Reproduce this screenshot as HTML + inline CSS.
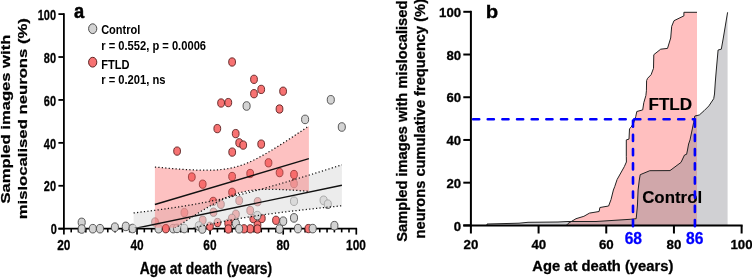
<!DOCTYPE html>
<html><head><meta charset="utf-8"><style>
html,body{margin:0;padding:0;background:#fff;}
body{width:752px;height:278px;overflow:hidden;position:relative;font-family:"Liberation Sans",sans-serif;}
</style></head><body>
<svg width="752" height="278" viewBox="0 0 752 278" style="position:absolute;left:0;top:0;will-change:transform">
<defs><clipPath id="ca"><rect x="50" y="0" width="320" height="227.8"/></clipPath></defs>
<g stroke="#000" fill="none">
<line x1="63.9" y1="13.20" x2="63.9" y2="229.6" stroke-width="1.8"/>
<line x1="58.4" y1="228.7" x2="357.10" y2="228.7" stroke-width="1.8"/>
<line x1="58.4" y1="228.70" x2="63.9" y2="228.70" stroke-width="1.8"/>
<line x1="58.4" y1="185.78" x2="63.9" y2="185.78" stroke-width="1.8"/>
<line x1="58.4" y1="142.86" x2="63.9" y2="142.86" stroke-width="1.8"/>
<line x1="58.4" y1="99.94" x2="63.9" y2="99.94" stroke-width="1.8"/>
<line x1="58.4" y1="57.02" x2="63.9" y2="57.02" stroke-width="1.8"/>
<line x1="58.4" y1="14.10" x2="63.9" y2="14.10" stroke-width="1.8"/>
<line x1="63.90" y1="228.7" x2="63.90" y2="234.6" stroke-width="1.7"/>
<line x1="71.21" y1="228.7" x2="71.21" y2="232.4" stroke-width="1.6"/>
<line x1="78.52" y1="228.7" x2="78.52" y2="232.4" stroke-width="1.6"/>
<line x1="85.83" y1="228.7" x2="85.83" y2="232.4" stroke-width="1.6"/>
<line x1="93.14" y1="228.7" x2="93.14" y2="232.4" stroke-width="1.6"/>
<line x1="100.45" y1="228.7" x2="100.45" y2="232.4" stroke-width="1.6"/>
<line x1="107.76" y1="228.7" x2="107.76" y2="232.4" stroke-width="1.6"/>
<line x1="115.07" y1="228.7" x2="115.07" y2="232.4" stroke-width="1.6"/>
<line x1="122.38" y1="228.7" x2="122.38" y2="232.4" stroke-width="1.6"/>
<line x1="129.69" y1="228.7" x2="129.69" y2="232.4" stroke-width="1.6"/>
<line x1="137.00" y1="228.7" x2="137.00" y2="234.6" stroke-width="1.7"/>
<line x1="144.31" y1="228.7" x2="144.31" y2="232.4" stroke-width="1.6"/>
<line x1="151.62" y1="228.7" x2="151.62" y2="232.4" stroke-width="1.6"/>
<line x1="158.93" y1="228.7" x2="158.93" y2="232.4" stroke-width="1.6"/>
<line x1="166.24" y1="228.7" x2="166.24" y2="232.4" stroke-width="1.6"/>
<line x1="173.55" y1="228.7" x2="173.55" y2="232.4" stroke-width="1.6"/>
<line x1="180.86" y1="228.7" x2="180.86" y2="232.4" stroke-width="1.6"/>
<line x1="188.17" y1="228.7" x2="188.17" y2="232.4" stroke-width="1.6"/>
<line x1="195.48" y1="228.7" x2="195.48" y2="232.4" stroke-width="1.6"/>
<line x1="202.79" y1="228.7" x2="202.79" y2="232.4" stroke-width="1.6"/>
<line x1="210.10" y1="228.7" x2="210.10" y2="234.6" stroke-width="1.7"/>
<line x1="217.41" y1="228.7" x2="217.41" y2="232.4" stroke-width="1.6"/>
<line x1="224.72" y1="228.7" x2="224.72" y2="232.4" stroke-width="1.6"/>
<line x1="232.03" y1="228.7" x2="232.03" y2="232.4" stroke-width="1.6"/>
<line x1="239.34" y1="228.7" x2="239.34" y2="232.4" stroke-width="1.6"/>
<line x1="246.65" y1="228.7" x2="246.65" y2="232.4" stroke-width="1.6"/>
<line x1="253.96" y1="228.7" x2="253.96" y2="232.4" stroke-width="1.6"/>
<line x1="261.27" y1="228.7" x2="261.27" y2="232.4" stroke-width="1.6"/>
<line x1="268.58" y1="228.7" x2="268.58" y2="232.4" stroke-width="1.6"/>
<line x1="275.89" y1="228.7" x2="275.89" y2="232.4" stroke-width="1.6"/>
<line x1="283.20" y1="228.7" x2="283.20" y2="234.6" stroke-width="1.7"/>
<line x1="290.51" y1="228.7" x2="290.51" y2="232.4" stroke-width="1.6"/>
<line x1="297.82" y1="228.7" x2="297.82" y2="232.4" stroke-width="1.6"/>
<line x1="305.13" y1="228.7" x2="305.13" y2="232.4" stroke-width="1.6"/>
<line x1="312.44" y1="228.7" x2="312.44" y2="232.4" stroke-width="1.6"/>
<line x1="319.75" y1="228.7" x2="319.75" y2="232.4" stroke-width="1.6"/>
<line x1="327.06" y1="228.7" x2="327.06" y2="232.4" stroke-width="1.6"/>
<line x1="334.37" y1="228.7" x2="334.37" y2="232.4" stroke-width="1.6"/>
<line x1="341.68" y1="228.7" x2="341.68" y2="232.4" stroke-width="1.6"/>
<line x1="348.99" y1="228.7" x2="348.99" y2="232.4" stroke-width="1.6"/>
<line x1="356.30" y1="228.7" x2="356.30" y2="234.6" stroke-width="1.7"/>
</g>
<ellipse cx="232.1" cy="62.0" rx="3.4" ry="4.15" fill="#f77272" stroke="#5a2020" stroke-width="0.9"/>
<ellipse cx="254.0" cy="79.3" rx="3.4" ry="4.15" fill="#f77272" stroke="#5a2020" stroke-width="0.9"/>
<ellipse cx="261.2" cy="89.4" rx="3.4" ry="4.15" fill="#f77272" stroke="#5a2020" stroke-width="0.9"/>
<ellipse cx="254.0" cy="93.7" rx="3.4" ry="4.15" fill="#f77272" stroke="#5a2020" stroke-width="0.9"/>
<ellipse cx="283.1" cy="91.2" rx="3.4" ry="4.15" fill="#f77272" stroke="#5a2020" stroke-width="0.9"/>
<ellipse cx="221.1" cy="103.0" rx="3.4" ry="4.15" fill="#f77272" stroke="#5a2020" stroke-width="0.9"/>
<ellipse cx="228.3" cy="102.6" rx="3.4" ry="4.15" fill="#f77272" stroke="#5a2020" stroke-width="0.9"/>
<ellipse cx="279.5" cy="109.0" rx="3.4" ry="4.15" fill="#f77272" stroke="#5a2020" stroke-width="0.9"/>
<ellipse cx="217.3" cy="128.6" rx="3.4" ry="4.15" fill="#f77272" stroke="#5a2020" stroke-width="0.9"/>
<ellipse cx="235.7" cy="133.6" rx="3.4" ry="4.15" fill="#f77272" stroke="#5a2020" stroke-width="0.9"/>
<ellipse cx="239.2" cy="142.8" rx="3.4" ry="4.15" fill="#f77272" stroke="#5a2020" stroke-width="0.9"/>
<ellipse cx="243.2" cy="145.1" rx="3.4" ry="4.15" fill="#f77272" stroke="#5a2020" stroke-width="0.9"/>
<ellipse cx="261.2" cy="144.1" rx="3.4" ry="4.15" fill="#f77272" stroke="#5a2020" stroke-width="0.9"/>
<ellipse cx="232.2" cy="152.1" rx="3.4" ry="4.15" fill="#f77272" stroke="#5a2020" stroke-width="0.9"/>
<ellipse cx="177.1" cy="151.1" rx="3.4" ry="4.15" fill="#f77272" stroke="#5a2020" stroke-width="0.9"/>
<ellipse cx="268.5" cy="162.8" rx="3.4" ry="4.15" fill="#f77272" stroke="#5a2020" stroke-width="0.9"/>
<ellipse cx="191.8" cy="177.0" rx="3.4" ry="4.15" fill="#f77272" stroke="#5a2020" stroke-width="0.9"/>
<ellipse cx="202.7" cy="184.2" rx="3.4" ry="4.15" fill="#f77272" stroke="#5a2020" stroke-width="0.9"/>
<ellipse cx="232.1" cy="176.5" rx="3.4" ry="4.15" fill="#f77272" stroke="#5a2020" stroke-width="0.9"/>
<ellipse cx="250.2" cy="173.5" rx="3.4" ry="4.15" fill="#f77272" stroke="#5a2020" stroke-width="0.9"/>
<ellipse cx="279.6" cy="172.6" rx="3.4" ry="4.15" fill="#f77272" stroke="#5a2020" stroke-width="0.9"/>
<ellipse cx="294.0" cy="174.5" rx="3.4" ry="4.15" fill="#f77272" stroke="#5a2020" stroke-width="0.9"/>
<ellipse cx="232.1" cy="192.3" rx="3.4" ry="4.15" fill="#f77272" stroke="#5a2020" stroke-width="0.9"/>
<ellipse cx="213.2" cy="201.4" rx="3.4" ry="4.15" fill="#f77272" stroke="#5a2020" stroke-width="0.9"/>
<ellipse cx="294.0" cy="183.6" rx="3.4" ry="4.15" fill="#f77272" stroke="#5a2020" stroke-width="0.9"/>
<ellipse cx="220.9" cy="204.3" rx="3.4" ry="4.15" fill="#f77272" stroke="#5a2020" stroke-width="0.9"/>
<ellipse cx="184.4" cy="212.6" rx="3.4" ry="4.15" fill="#f77272" stroke="#5a2020" stroke-width="0.9"/>
<ellipse cx="213.5" cy="212.2" rx="3.4" ry="4.15" fill="#f77272" stroke="#5a2020" stroke-width="0.9"/>
<ellipse cx="202.7" cy="220.2" rx="3.4" ry="4.15" fill="#f77272" stroke="#5a2020" stroke-width="0.9"/>
<ellipse cx="235.9" cy="214.2" rx="3.4" ry="4.15" fill="#f77272" stroke="#5a2020" stroke-width="0.9"/>
<ellipse cx="231.9" cy="218.3" rx="3.4" ry="4.15" fill="#f77272" stroke="#5a2020" stroke-width="0.9"/>
<ellipse cx="217.5" cy="222.5" rx="3.4" ry="4.15" fill="#f77272" stroke="#5a2020" stroke-width="0.9"/>
<ellipse cx="228.2" cy="223.3" rx="3.4" ry="4.15" fill="#f77272" stroke="#5a2020" stroke-width="0.9"/>
<ellipse cx="209.9" cy="226.3" rx="3.4" ry="4.15" fill="#f77272" stroke="#5a2020" stroke-width="0.9"/>
<ellipse cx="228.3" cy="229.0" rx="3.4" ry="4.15" fill="#f77272" stroke="#5a2020" stroke-width="0.9"/>
<ellipse cx="155.0" cy="222.0" rx="3.4" ry="4.15" fill="#f77272" stroke="#5a2020" stroke-width="0.9"/>
<ellipse cx="239.2" cy="200.6" rx="3.4" ry="4.15" fill="#f77272" stroke="#5a2020" stroke-width="0.9"/>
<ellipse cx="257.6" cy="201.7" rx="3.4" ry="4.15" fill="#f77272" stroke="#5a2020" stroke-width="0.9"/>
<ellipse cx="250.2" cy="210.5" rx="3.4" ry="4.15" fill="#f77272" stroke="#5a2020" stroke-width="0.9"/>
<ellipse cx="253.3" cy="218.6" rx="3.4" ry="4.15" fill="#f77272" stroke="#5a2020" stroke-width="0.9"/>
<ellipse cx="261.8" cy="218.4" rx="3.4" ry="4.15" fill="#f77272" stroke="#5a2020" stroke-width="0.9"/>
<ellipse cx="257.5" cy="225.0" rx="3.4" ry="4.15" fill="#f77272" stroke="#5a2020" stroke-width="0.9"/>
<ellipse cx="257.5" cy="229.0" rx="3.4" ry="4.15" fill="#f77272" stroke="#5a2020" stroke-width="0.9"/>
<ellipse cx="250.3" cy="228.8" rx="3.4" ry="4.15" fill="#f77272" stroke="#5a2020" stroke-width="0.9"/>
<ellipse cx="244.0" cy="228.8" rx="3.4" ry="4.15" fill="#f77272" stroke="#5a2020" stroke-width="0.9"/>
<ellipse cx="276.0" cy="220.3" rx="3.4" ry="4.15" fill="#f77272" stroke="#5a2020" stroke-width="0.9"/>
<ellipse cx="308.4" cy="228.6" rx="3.4" ry="4.15" fill="#f77272" stroke="#5a2020" stroke-width="0.9"/>
<ellipse cx="246.6" cy="106.0" rx="3.55" ry="4.3" fill="#d3d3d3" stroke="#4a4a4a" stroke-width="0.9"/>
<ellipse cx="305.1" cy="119.4" rx="3.55" ry="4.3" fill="#d3d3d3" stroke="#4a4a4a" stroke-width="0.9"/>
<ellipse cx="330.8" cy="99.8" rx="3.55" ry="4.3" fill="#d3d3d3" stroke="#4a4a4a" stroke-width="0.9"/>
<ellipse cx="341.8" cy="127.0" rx="3.55" ry="4.3" fill="#d3d3d3" stroke="#4a4a4a" stroke-width="0.9"/>
<ellipse cx="81.7" cy="222.4" rx="3.55" ry="4.3" fill="#d3d3d3" stroke="#4a4a4a" stroke-width="0.9"/>
<ellipse cx="81.7" cy="229.0" rx="3.55" ry="4.3" fill="#d3d3d3" stroke="#4a4a4a" stroke-width="0.9"/>
<ellipse cx="92.8" cy="228.7" rx="3.55" ry="4.3" fill="#d3d3d3" stroke="#4a4a4a" stroke-width="0.9"/>
<ellipse cx="100.0" cy="228.7" rx="3.55" ry="4.3" fill="#d3d3d3" stroke="#4a4a4a" stroke-width="0.9"/>
<ellipse cx="114.9" cy="227.2" rx="3.55" ry="4.3" fill="#d3d3d3" stroke="#4a4a4a" stroke-width="0.9"/>
<ellipse cx="125.8" cy="226.4" rx="3.55" ry="4.3" fill="#d3d3d3" stroke="#4a4a4a" stroke-width="0.9"/>
<ellipse cx="132.6" cy="228.5" rx="3.55" ry="4.3" fill="#d3d3d3" stroke="#4a4a4a" stroke-width="0.9"/>
<ellipse cx="158.6" cy="228.7" rx="3.55" ry="4.3" fill="#d3d3d3" stroke="#4a4a4a" stroke-width="0.9"/>
<ellipse cx="173.2" cy="228.6" rx="3.55" ry="4.3" fill="#d3d3d3" stroke="#4a4a4a" stroke-width="0.9"/>
<ellipse cx="177.0" cy="228.4" rx="3.55" ry="4.3" fill="#d3d3d3" stroke="#4a4a4a" stroke-width="0.9"/>
<ellipse cx="184.2" cy="228.5" rx="3.55" ry="4.3" fill="#d3d3d3" stroke="#4a4a4a" stroke-width="0.9"/>
<ellipse cx="198.8" cy="226.0" rx="3.55" ry="4.3" fill="#d3d3d3" stroke="#4a4a4a" stroke-width="0.9"/>
<ellipse cx="202.3" cy="229.0" rx="3.55" ry="4.3" fill="#d3d3d3" stroke="#4a4a4a" stroke-width="0.9"/>
<ellipse cx="235.9" cy="223.5" rx="3.55" ry="4.3" fill="#d3d3d3" stroke="#4a4a4a" stroke-width="0.9"/>
<ellipse cx="239.1" cy="228.8" rx="3.55" ry="4.3" fill="#d3d3d3" stroke="#4a4a4a" stroke-width="0.9"/>
<ellipse cx="257.3" cy="215.6" rx="3.55" ry="4.3" fill="#d3d3d3" stroke="#4a4a4a" stroke-width="0.9"/>
<ellipse cx="283.2" cy="221.2" rx="3.55" ry="4.3" fill="#d3d3d3" stroke="#4a4a4a" stroke-width="0.9"/>
<ellipse cx="279.5" cy="229.0" rx="3.55" ry="4.3" fill="#d3d3d3" stroke="#4a4a4a" stroke-width="0.9"/>
<ellipse cx="294.0" cy="217.9" rx="3.55" ry="4.3" fill="#d3d3d3" stroke="#4a4a4a" stroke-width="0.9"/>
<ellipse cx="297.9" cy="228.6" rx="3.55" ry="4.3" fill="#d3d3d3" stroke="#4a4a4a" stroke-width="0.9"/>
<ellipse cx="312.7" cy="228.6" rx="3.55" ry="4.3" fill="#d3d3d3" stroke="#4a4a4a" stroke-width="0.9"/>
<ellipse cx="334.4" cy="225.7" rx="3.55" ry="4.3" fill="#d3d3d3" stroke="#4a4a4a" stroke-width="0.9"/>
<ellipse cx="294.0" cy="201.2" rx="3.55" ry="4.3" fill="#d3d3d3" stroke="#4a4a4a" stroke-width="0.9"/>
<ellipse cx="323.6" cy="200.3" rx="3.55" ry="4.3" fill="#d3d3d3" stroke="#4a4a4a" stroke-width="0.9"/>
<ellipse cx="327.8" cy="204.2" rx="3.55" ry="4.3" fill="#d3d3d3" stroke="#4a4a4a" stroke-width="0.9"/>
<g clip-path="url(#ca)">
<polygon points="133.60,212.92 137.07,212.52 140.54,212.10 144.01,211.68 147.49,211.25 150.96,210.81 154.43,210.37 157.90,209.91 161.37,209.44 164.84,208.96 168.32,208.46 171.79,207.96 175.26,207.44 178.73,206.91 182.20,206.36 185.67,205.79 189.15,205.21 192.62,204.62 196.09,204.00 199.56,203.37 203.03,202.72 206.50,202.06 209.98,201.37 213.45,200.66 216.92,199.94 220.39,199.20 223.86,198.43 227.33,197.65 230.81,196.85 234.28,196.04 237.75,195.20 241.22,194.35 244.69,193.48 248.16,192.59 251.64,191.69 255.11,190.78 258.58,189.85 262.05,188.91 265.52,187.95 269.00,186.98 272.47,186.00 275.94,185.02 279.41,184.02 282.88,183.01 286.35,181.99 289.82,180.96 293.30,179.92 296.77,178.88 300.24,177.83 303.71,176.78 307.18,175.71 310.65,174.64 314.13,173.57 317.60,172.49 321.07,171.40 324.54,170.32 328.01,169.22 331.48,168.12 334.96,167.02 338.43,165.92 341.90,164.81 341.90,205.79 338.43,206.13 334.96,206.47 331.48,206.81 328.01,207.16 324.54,207.52 321.07,207.87 317.60,208.24 314.13,208.60 310.65,208.98 307.18,209.36 303.71,209.74 300.24,210.13 296.77,210.53 293.30,210.93 289.82,211.34 286.35,211.76 282.88,212.19 279.41,212.63 275.94,213.08 272.47,213.53 269.00,214.00 265.52,214.48 262.05,214.97 258.58,215.48 255.11,215.99 251.64,216.53 248.16,217.07 244.69,217.63 241.22,218.21 237.75,218.81 234.28,219.42 230.81,220.05 227.33,220.70 223.86,221.36 220.39,222.05 216.92,222.75 213.45,223.47 209.98,224.21 206.50,224.97 203.03,225.75 199.56,226.55 196.09,227.37 192.62,228.20 189.15,229.05 185.67,229.92 182.20,230.80 178.73,231.70 175.26,232.61 171.79,233.54 168.32,234.48 164.84,235.44 161.37,236.40 157.90,237.38 154.43,238.37 150.96,239.37 147.49,240.38 144.01,241.39 140.54,242.42 137.07,243.45 133.60,244.50" fill="rgb(223,223,223)" fill-opacity="0.6"/>
</g>
<ellipse cx="165.8" cy="228.7" rx="3.4" ry="4.15" fill="#f77272" stroke="#5a2020" stroke-width="0.9"/>
<g clip-path="url(#ca)">
<polygon points="154.90,167.03 157.47,167.27 160.03,167.50 162.60,167.74 165.17,167.96 167.73,168.19 170.30,168.40 172.87,168.61 175.43,168.81 178.00,169.00 180.57,169.19 183.13,169.36 185.70,169.52 188.27,169.67 190.83,169.81 193.40,169.93 195.97,170.04 198.53,170.12 201.10,170.18 203.67,170.22 206.23,170.23 208.80,170.21 211.37,170.16 213.93,170.06 216.50,169.93 219.07,169.74 221.63,169.49 224.20,169.19 226.77,168.82 229.33,168.37 231.90,167.85 234.47,167.25 237.03,166.56 239.60,165.79 242.17,164.93 244.73,163.98 247.30,162.96 249.87,161.85 252.43,160.68 255.00,159.44 257.57,158.14 260.13,156.79 262.70,155.39 265.27,153.95 267.83,152.46 270.40,150.95 272.97,149.40 275.53,147.83 278.10,146.23 280.67,144.62 283.23,142.98 285.80,141.33 288.37,139.66 290.93,137.98 293.50,136.29 296.07,134.58 298.63,132.87 301.20,131.15 303.77,129.41 306.33,127.68 308.90,125.93 308.90,191.41 306.33,191.19 303.77,190.98 301.20,190.78 298.63,190.58 296.07,190.40 293.50,190.22 290.93,190.05 288.37,189.90 285.80,189.76 283.23,189.64 280.67,189.53 278.10,189.44 275.53,189.37 272.97,189.32 270.40,189.31 267.83,189.32 265.27,189.36 262.70,189.45 260.13,189.57 257.57,189.75 255.00,189.98 252.43,190.27 249.87,190.62 247.30,191.05 244.73,191.55 242.17,192.13 239.60,192.80 237.03,193.55 234.47,194.39 231.90,195.32 229.33,196.32 226.77,197.41 224.20,198.56 221.63,199.79 219.07,201.07 216.50,202.41 213.93,203.80 211.37,205.23 208.80,206.71 206.23,208.21 203.67,209.75 201.10,211.32 198.53,212.91 195.97,214.52 193.40,216.15 190.83,217.80 188.27,219.47 185.70,221.14 183.13,222.83 180.57,224.54 178.00,226.25 175.43,227.97 172.87,229.70 170.30,231.43 167.73,233.18 165.17,234.92 162.60,236.68 160.03,238.44 157.47,240.20 154.90,241.97" fill="rgb(250,100,100)" fill-opacity="0.4"/>
<polyline points="133.60,212.92 137.07,212.52 140.54,212.10 144.01,211.68 147.49,211.25 150.96,210.81 154.43,210.37 157.90,209.91 161.37,209.44 164.84,208.96 168.32,208.46 171.79,207.96 175.26,207.44 178.73,206.91 182.20,206.36 185.67,205.79 189.15,205.21 192.62,204.62 196.09,204.00 199.56,203.37 203.03,202.72 206.50,202.06 209.98,201.37 213.45,200.66 216.92,199.94 220.39,199.20 223.86,198.43 227.33,197.65 230.81,196.85 234.28,196.04 237.75,195.20 241.22,194.35 244.69,193.48 248.16,192.59 251.64,191.69 255.11,190.78 258.58,189.85 262.05,188.91 265.52,187.95 269.00,186.98 272.47,186.00 275.94,185.02 279.41,184.02 282.88,183.01 286.35,181.99 289.82,180.96 293.30,179.92 296.77,178.88 300.24,177.83 303.71,176.78 307.18,175.71 310.65,174.64 314.13,173.57 317.60,172.49 321.07,171.40 324.54,170.32 328.01,169.22 331.48,168.12 334.96,167.02 338.43,165.92 341.90,164.81" fill="none" stroke="#111" stroke-width="1.25" stroke-dasharray="1.2 2.25"/>
<polyline points="133.60,244.50 137.07,243.45 140.54,242.42 144.01,241.39 147.49,240.38 150.96,239.37 154.43,238.37 157.90,237.38 161.37,236.40 164.84,235.44 168.32,234.48 171.79,233.54 175.26,232.61 178.73,231.70 182.20,230.80 185.67,229.92 189.15,229.05 192.62,228.20 196.09,227.37 199.56,226.55 203.03,225.75 206.50,224.97 209.98,224.21 213.45,223.47 216.92,222.75 220.39,222.05 223.86,221.36 227.33,220.70 230.81,220.05 234.28,219.42 237.75,218.81 241.22,218.21 244.69,217.63 248.16,217.07 251.64,216.53 255.11,215.99 258.58,215.48 262.05,214.97 265.52,214.48 269.00,214.00 272.47,213.53 275.94,213.08 279.41,212.63 282.88,212.19 286.35,211.76 289.82,211.34 293.30,210.93 296.77,210.53 300.24,210.13 303.71,209.74 307.18,209.36 310.65,208.98 314.13,208.60 317.60,208.24 321.07,207.87 324.54,207.52 328.01,207.16 331.48,206.81 334.96,206.47 338.43,206.13 341.90,205.79" fill="none" stroke="#111" stroke-width="1.25" stroke-dasharray="1.2 2.25"/>
<polyline points="154.90,167.03 157.47,167.27 160.03,167.50 162.60,167.74 165.17,167.96 167.73,168.19 170.30,168.40 172.87,168.61 175.43,168.81 178.00,169.00 180.57,169.19 183.13,169.36 185.70,169.52 188.27,169.67 190.83,169.81 193.40,169.93 195.97,170.04 198.53,170.12 201.10,170.18 203.67,170.22 206.23,170.23 208.80,170.21 211.37,170.16 213.93,170.06 216.50,169.93 219.07,169.74 221.63,169.49 224.20,169.19 226.77,168.82 229.33,168.37 231.90,167.85 234.47,167.25 237.03,166.56 239.60,165.79 242.17,164.93 244.73,163.98 247.30,162.96 249.87,161.85 252.43,160.68 255.00,159.44 257.57,158.14 260.13,156.79 262.70,155.39 265.27,153.95 267.83,152.46 270.40,150.95 272.97,149.40 275.53,147.83 278.10,146.23 280.67,144.62 283.23,142.98 285.80,141.33 288.37,139.66 290.93,137.98 293.50,136.29 296.07,134.58 298.63,132.87 301.20,131.15 303.77,129.41 306.33,127.68 308.90,125.93" fill="none" stroke="#111" stroke-width="1.25" stroke-dasharray="1.2 2.25"/>
<polyline points="154.90,241.97 157.47,240.20 160.03,238.44 162.60,236.68 165.17,234.92 167.73,233.18 170.30,231.43 172.87,229.70 175.43,227.97 178.00,226.25 180.57,224.54 183.13,222.83 185.70,221.14 188.27,219.47 190.83,217.80 193.40,216.15 195.97,214.52 198.53,212.91 201.10,211.32 203.67,209.75 206.23,208.21 208.80,206.71 211.37,205.23 213.93,203.80 216.50,202.41 219.07,201.07 221.63,199.79 224.20,198.56 226.77,197.41 229.33,196.32 231.90,195.32 234.47,194.39 237.03,193.55 239.60,192.80 242.17,192.13 244.73,191.55 247.30,191.05 249.87,190.62 252.43,190.27 255.00,189.98 257.57,189.75 260.13,189.57 262.70,189.45 265.27,189.36 267.83,189.32 270.40,189.31 272.97,189.32 275.53,189.37 278.10,189.44 280.67,189.53 283.23,189.64 285.80,189.76 288.37,189.90 290.93,190.05 293.50,190.22 296.07,190.40 298.63,190.58 301.20,190.78 303.77,190.98 306.33,191.19 308.90,191.41" fill="none" stroke="#111" stroke-width="1.25" stroke-dasharray="1.2 2.25"/>
<line x1="154.9" y1="204.50" x2="308.9" y2="158.67" stroke="#111" stroke-width="1.4"/>
<line x1="133.6" y1="228.71" x2="341.9" y2="185.30" stroke="#111" stroke-width="1.4"/>
</g>
<ellipse cx="92.7" cy="28.7" rx="4.1" ry="4.9" fill="#d3d3d3" stroke="#4a4a4a" stroke-width="1.0"/>
<ellipse cx="92.7" cy="62.2" rx="4.1" ry="4.9" fill="#f77272" stroke="#5a2020" stroke-width="1.0"/>
<polygon points="566.40,225.40 568.00,223.50 572.00,221.10 576.00,218.70 583.90,216.30 589.50,213.10 599.10,211.50 599.90,207.50 608.60,206.00 611.00,199.60 613.40,190.00 614.70,186.70 617.10,179.50 624.30,166.70 626.40,162.00 626.30,156.30 626.30,139.90 629.00,139.10 629.50,128.70 631.10,127.20 633.90,122.30 635.80,116.30 636.80,111.50 642.70,109.90 643.80,102.70 645.90,95.50 646.40,90.80 646.60,80.60 647.60,78.30 651.10,74.70 653.50,68.30 653.80,54.70 660.70,49.20 667.50,48.40 670.70,38.00 671.70,26.30 674.00,20.70 683.90,15.90 683.90,12.30 697.00,12.30 697.00,225.40" fill="#ffbfbf"/>
<polygon points="487.00,225.40 487.00,224.00 519.00,223.20 528.00,222.30 558.00,222.00 568.00,221.50 596.00,221.50 630.20,219.30 636.20,218.70 637.40,206.00 638.10,190.00 639.30,180.00 640.20,174.70 649.80,170.70 670.00,170.60 681.00,162.40 684.50,155.00 686.60,154.30 687.50,150.00 688.60,144.00 690.00,140.00 692.50,128.00 693.70,122.30 694.80,116.00 699.30,115.00 704.10,110.70 708.90,105.90 713.70,98.70 714.50,94.00 715.30,82.00 716.30,70.00 718.10,50.00 721.30,49.20 723.30,38.00 727.60,12.30 727.60,225.40" fill="rgb(128,128,135)" fill-opacity="0.37"/>
<polyline points="566.40,225.40 568.00,223.50 572.00,221.10 576.00,218.70 583.90,216.30 589.50,213.10 599.10,211.50 599.90,207.50 608.60,206.00 611.00,199.60 613.40,190.00 614.70,186.70 617.10,179.50 624.30,166.70 626.40,162.00 626.30,156.30 626.30,139.90 629.00,139.10 629.50,128.70 631.10,127.20 633.90,122.30 635.80,116.30 636.80,111.50 642.70,109.90 643.80,102.70 645.90,95.50 646.40,90.80 646.60,80.60 647.60,78.30 651.10,74.70 653.50,68.30 653.80,54.70 660.70,49.20 667.50,48.40 670.70,38.00 671.70,26.30 674.00,20.70 683.90,15.90 683.90,12.30 697.00,12.30" fill="none" stroke="#222" stroke-width="1"/>
<polyline points="487.00,225.40 487.00,224.00 519.00,223.20 528.00,222.30 558.00,222.00 568.00,221.50 596.00,221.50 630.20,219.30 636.20,218.70 637.40,206.00 638.10,190.00 639.30,180.00 640.20,174.70 649.80,170.70 670.00,170.60 681.00,162.40 684.50,155.00 686.60,154.30 687.50,150.00 688.60,144.00 690.00,140.00 692.50,128.00 693.70,122.30 694.80,116.00 699.30,115.00 704.10,110.70 708.90,105.90 713.70,98.70 714.50,94.00 715.30,82.00 716.30,70.00 718.10,50.00 721.30,49.20 723.30,38.00 727.60,12.30" fill="none" stroke="#222" stroke-width="1"/>
<g stroke="#000" fill="none">
<line x1="470.9" y1="10.80" x2="470.9" y2="226.4" stroke-width="2"/>
<line x1="463.3" y1="225.4" x2="742.62" y2="225.4" stroke-width="2"/>
<line x1="463.3" y1="225.40" x2="470.9" y2="225.40" stroke-width="2"/>
<line x1="463.3" y1="182.68" x2="470.9" y2="182.68" stroke-width="2"/>
<line x1="463.3" y1="139.96" x2="470.9" y2="139.96" stroke-width="2"/>
<line x1="463.3" y1="97.24" x2="470.9" y2="97.24" stroke-width="2"/>
<line x1="463.3" y1="54.52" x2="470.9" y2="54.52" stroke-width="2"/>
<line x1="463.3" y1="11.80" x2="470.9" y2="11.80" stroke-width="2"/>
<line x1="470.90" y1="225.4" x2="470.90" y2="233.5" stroke-width="2"/>
<line x1="538.58" y1="225.4" x2="538.58" y2="233.5" stroke-width="2"/>
<line x1="606.26" y1="225.4" x2="606.26" y2="233.5" stroke-width="2"/>
<line x1="673.94" y1="225.4" x2="673.94" y2="233.5" stroke-width="2"/>
<line x1="741.62" y1="225.4" x2="741.62" y2="233.5" stroke-width="2"/>
</g>
<g font-family='"Liberation Sans", sans-serif' font-weight="bold">
<text transform="translate(74.01,18.40) scale(0.8964,1)" font-size="20.40" fill="#000" stroke="#000" stroke-width="0.5">a</text>
<text transform="translate(101.15,34.00) scale(0.8375,1)" font-size="13.20" fill="#000" stroke="#000" stroke-width="0">Control</text>
<text transform="translate(101.20,49.90) scale(0.8456,1)" font-size="13.20" fill="#000" stroke="#000" stroke-width="0">r = 0.552, p = 0.0006</text>
<text transform="translate(101.21,68.90) scale(0.8416,1)" font-size="13.20" fill="#000" stroke="#000" stroke-width="0">FTLD</text>
<text transform="translate(101.20,84.40) scale(0.8473,1)" font-size="13.20" fill="#000" stroke="#000" stroke-width="0">r = 0.201, ns</text>
<text transform="translate(50.65,234.40) scale(0.7300,1)" font-size="15.00" fill="#000" stroke="#000" stroke-width="0.3">0</text>
<text transform="translate(43.86,191.48) scale(0.7300,1)" font-size="15.00" fill="#000" stroke="#000" stroke-width="0.3">20</text>
<text transform="translate(43.86,148.56) scale(0.7300,1)" font-size="15.00" fill="#000" stroke="#000" stroke-width="0.3">40</text>
<text transform="translate(43.86,105.64) scale(0.7300,1)" font-size="15.00" fill="#000" stroke="#000" stroke-width="0.3">60</text>
<text transform="translate(43.86,62.72) scale(0.7300,1)" font-size="15.00" fill="#000" stroke="#000" stroke-width="0.3">80</text>
<text transform="translate(37.77,19.80) scale(0.7300,1)" font-size="15.00" fill="#000" stroke="#000" stroke-width="0.3">100</text>
<text transform="translate(57.16,250.30) scale(0.7900,1)" font-size="15.00" fill="#000" stroke="#000" stroke-width="0.3">20</text>
<text transform="translate(130.45,250.30) scale(0.7900,1)" font-size="15.00" fill="#000" stroke="#000" stroke-width="0.3">40</text>
<text transform="translate(203.36,250.30) scale(0.7900,1)" font-size="15.00" fill="#000" stroke="#000" stroke-width="0.3">60</text>
<text transform="translate(276.46,250.30) scale(0.7900,1)" font-size="15.00" fill="#000" stroke="#000" stroke-width="0.3">80</text>
<text transform="translate(346.08,250.30) scale(0.7900,1)" font-size="15.00" fill="#000" stroke="#000" stroke-width="0.3">100</text>
<text transform="translate(139.68,274.10) scale(0.8719,1)" font-size="15.90" fill="#000" stroke="#000" stroke-width="0.3">Age at death (years)</text>
<text transform="translate(10.20,203.56) scale(0.7600,1) rotate(-90)" font-size="16.62" fill="#000" stroke="#000" stroke-width="0.3">Sampled images with</text>
<text transform="translate(26.70,219.34) scale(0.7500,1) rotate(-90)" font-size="16.70" fill="#000" stroke="#000" stroke-width="0.3">mislocalised neurons (%)</text>
<text transform="translate(485.83,18.30) scale(1.1007,1)" font-size="18.50" fill="#000" stroke="#000" stroke-width="0.3">b</text>
<text transform="translate(453.80,230.60) scale(0.9700,1)" font-size="13.60" fill="#000" stroke="#000" stroke-width="0.3">0</text>
<text transform="translate(446.46,187.88) scale(0.9700,1)" font-size="13.60" fill="#000" stroke="#000" stroke-width="0.3">20</text>
<text transform="translate(446.46,145.16) scale(0.9700,1)" font-size="13.60" fill="#000" stroke="#000" stroke-width="0.3">40</text>
<text transform="translate(446.46,102.44) scale(0.9700,1)" font-size="13.60" fill="#000" stroke="#000" stroke-width="0.3">60</text>
<text transform="translate(446.46,59.72) scale(0.9700,1)" font-size="13.60" fill="#000" stroke="#000" stroke-width="0.3">80</text>
<text transform="translate(439.12,17.00) scale(0.9700,1)" font-size="13.60" fill="#000" stroke="#000" stroke-width="0.3">100</text>
<text transform="translate(463.56,248.60) scale(1.0000,1)" font-size="13.30" fill="#000" stroke="#000" stroke-width="0.3">20</text>
<text transform="translate(531.45,248.60) scale(1.0000,1)" font-size="13.30" fill="#000" stroke="#000" stroke-width="0.3">40</text>
<text transform="translate(598.92,248.60) scale(1.0000,1)" font-size="13.30" fill="#000" stroke="#000" stroke-width="0.3">60</text>
<text transform="translate(666.60,248.60) scale(1.0000,1)" font-size="13.30" fill="#000" stroke="#000" stroke-width="0.3">80</text>
<text transform="translate(730.38,248.60) scale(1.0000,1)" font-size="13.30" fill="#000" stroke="#000" stroke-width="0.3">100</text>
<text transform="translate(532.27,270.50) scale(1.0054,1)" font-size="14.70" fill="#000" stroke="#000" stroke-width="0.3">Age at death (years)</text>
<text transform="translate(407.20,241.73) scale(1.0000,1) rotate(-90)" font-size="14.66" fill="#000" stroke="#000" stroke-width="0.3">Sampled images with mislocalised</text>
<text transform="translate(424.80,238.42) scale(1.0000,1) rotate(-90)" font-size="14.66" fill="#000" stroke="#000" stroke-width="0.3">neurons cumulative frequency (%)</text>
<text transform="translate(648.43,109.90) scale(1.0197,1)" font-size="16.80" fill="#000" stroke="#000" stroke-width="0.15">FTLD</text>
<text transform="translate(642.17,203.20) scale(1.0051,1)" font-size="16.80" fill="#000" stroke="#000" stroke-width="0.15">Control</text>
<text transform="translate(624.65,244.00) scale(0.9200,1)" font-size="17.00" fill="#0000ff" stroke="#0000ff" stroke-width="0.3">68</text>
<text transform="translate(686.05,244.00) scale(0.9200,1)" font-size="17.00" fill="#0000ff" stroke="#0000ff" stroke-width="0.3">86</text>
</g>
<path d="M473.1,119.3 H695.0" fill="none" stroke="#0000ff" stroke-width="2.6" stroke-linecap="round" stroke-dasharray="6.1 8.55"/>
<path d="M633.0,120.6 V227.5" fill="none" stroke="#0000ff" stroke-width="2.6" stroke-linecap="round" stroke-dasharray="6.2 8.0"/>
<path d="M694.9,120.6 V227.5" fill="none" stroke="#0000ff" stroke-width="2.6" stroke-linecap="round" stroke-dasharray="6.2 8.0"/>
</svg>
</body></html>
